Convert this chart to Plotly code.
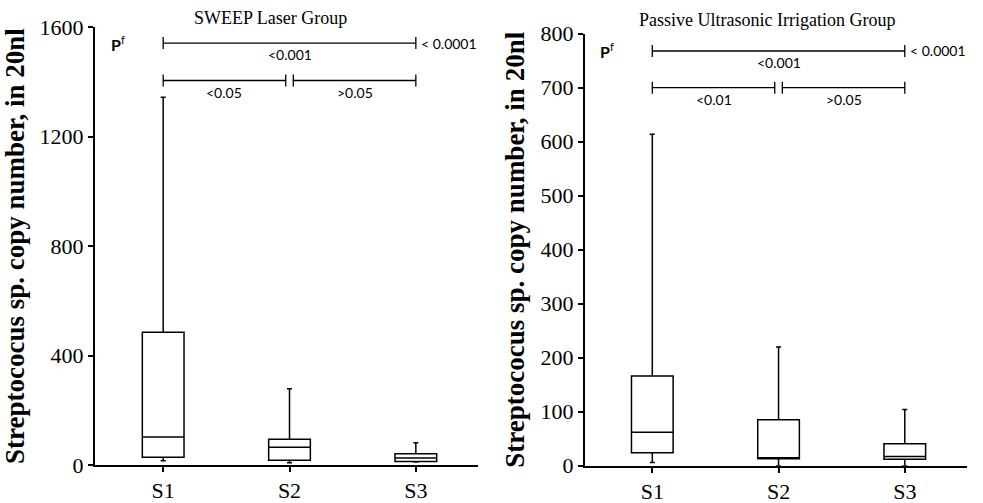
import plotly.graph_objects as go

categories = ["S1", "S2", "S3"]

# SWEEP Laser Group
sweep_lower = [16, 8, 11]
sweep_q1 = [28, 17, 13]
sweep_median = [102, 65, 26]
sweep_q3 = [485, 94, 41]
sweep_upper = [1344, 279, 81]

# Passive Ultrasonic Irrigation Group
pui_lower = [6, 0, 0]
pui_q1 = [24, 13, 12]
pui_median = [62, 15, 17]
pui_q3 = [166, 85, 41]
pui_upper = [614, 220, 104]

# significance brackets: (x0, x1, y, label)
sweep_brackets = [(0, 2, 1542, "<0.001"), (0, 0.97, 1405, "<0.05"), (1.03, 2, 1405, ">0.05")]
pui_brackets = [(0, 2, 768, "<0.001"), (0, 0.97, 700, "<0.01"), (1.03, 2, 700, ">0.05")]
overall_p = "< 0.0001"

xpos = list(range(len(categories)))
serif = "Liberation Serif"
sans = "Lato"

fig = go.Figure()

def add_box(lower, q1, med, q3, upper, xa, ya):
    fig.add_trace(go.Box(
        x=xpos, lowerfence=lower, q1=q1, median=med, q3=q3, upperfence=upper,
        xaxis=xa, yaxis=ya, width=0.33, whiskerwidth=0.12,
        fillcolor="white", line=dict(color="black", width=1.5),
        boxpoints=False, showlegend=False, hoverinfo="skip"))

add_box(sweep_lower, sweep_q1, sweep_median, sweep_q3, sweep_upper, "x", "y")
add_box(pui_lower, pui_q1, pui_median, pui_q3, pui_upper, "x2", "y2")

def add_brackets(brackets, xa, ya, cap):
    for x0, x1, y, lab in brackets:
        fig.add_trace(go.Scatter(
            x=[x0, x0, None, x0, x1, None, x1, x1],
            y=[y - cap, y + cap, None, y, y, None, y - cap, y + cap],
            mode="lines", line=dict(color="black", width=1.3),
            xaxis=xa, yaxis=ya, showlegend=False, hoverinfo="skip"))
        fig.add_annotation(x=(x0 + x1) / 2, y=y, xref=xa, yref=ya, text=lab,
                           showarrow=False, yanchor="top", yshift=-1,
                           font=dict(family=sans, size=14, color="black"))
    top = brackets[0]
    fig.add_annotation(x=top[1], y=top[2], xref=xa, yref=ya, text=overall_p,
                       showarrow=False, xanchor="left", xshift=3,
                       font=dict(family=sans, size=14, color="black"))
    fig.add_annotation(x=top[0], y=top[2], xref=xa, yref=ya, text="<b>P</b><sup>f</sup>",
                       showarrow=False, xanchor="right", xshift=-36,
                       font=dict(family=sans, size=16, color="black"))

add_brackets(sweep_brackets, "x", "y", 22)
add_brackets(pui_brackets, "x2", "y2", 11)

ytitle = "<b>Streptococus sp. copy number, in 20nl</b>"
axis_common = dict(showline=True, linecolor="black", linewidth=2, ticks="outside",
                   ticklen=5, tickcolor="black", tickwidth=1.5, showgrid=False,
                   zeroline=False, automargin=False,
                   tickfont=dict(family=serif, size=22, color="black"))
title_font = dict(family=serif, size=27, color="black")

fig.update_layout(
    width=983, height=503, margin=dict(l=0, r=0, t=0, b=0),
    plot_bgcolor="white", paper_bgcolor="white",
    xaxis=dict(domain=[0.0966, 0.486], range=[-0.54, 2.49], tickvals=xpos,
               ticktext=categories, anchor="y", **axis_common),
    yaxis=dict(domain=[0.0755, 0.946], range=[0, 1600], tickvals=[0, 400, 800, 1200, 1600],
               anchor="x", title=dict(text=ytitle, standoff=8, font=title_font),
               **axis_common),
    xaxis2=dict(domain=[0.595, 0.984], range=[-0.534, 2.495], tickvals=xpos,
                ticktext=categories, anchor="y2", **axis_common),
    yaxis2=dict(domain=[0.074, 0.933], range=[0, 800], dtick=100,
                anchor="x2", title=dict(text=ytitle, standoff=8, font=title_font),
                **axis_common),
)

fig.add_annotation(x=270 / 983, y=1 - 18 / 503, xref="paper", yref="paper",
                   xanchor="center", yanchor="middle",
                   text="SWEEP Laser Group", showarrow=False,
                   font=dict(family=serif, size=18, color="black"))
fig.add_annotation(x=767 / 983, y=1 - 20 / 503, xref="paper", yref="paper",
                   xanchor="center", yanchor="middle",
                   text="Passive Ultrasonic Irrigation Group", showarrow=False,
                   font=dict(family=serif, size=18, color="black"))

fig.write_html("out.html")
